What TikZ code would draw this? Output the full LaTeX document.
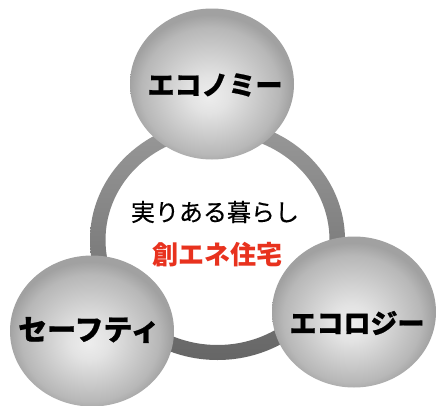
\documentclass[tikz,border=0pt]{standalone}
\usepackage{fontspec}
\newfontfamily\jp{Noto Sans CJK JP}
\newfontfamily\jpheavy[BoldFeatures={FakeBold=0.8}]{Noto Sans CJK JP}
\newfontfamily\jpmed[FakeBold=0.4]{Noto Sans CJK JP}
\usetikzlibrary{shapes.geometric}
\pgfdeclareradialshading{sphereshade}{\pgfpoint{-1bp}{-4bp}}{color(0bp)=(black!7); color(6bp)=(black!11); color(14bp)=(black!20); color(21bp)=(black!28); color(25bp)=(black!37); color(50bp)=(black!37)}
\definecolor{jred}{HTML}{E8321E}
\tikzset{
  sphere/.style={ellipse, minimum width=164pt, minimum height=151pt, inner sep=0pt, shading=sphereshade},
  lbl/.style={font=\jpheavy\bfseries\fontsize{27}{27}\selectfont, text=black, inner sep=0pt},
  maintext/.style={font=\jpmed\fontsize{24}{24}\selectfont, text=black, inner sep=0pt},
  redtext/.style={font=\jp\bfseries\fontsize{26}{26}\selectfont, text=jred, inner sep=0pt}
}
\begin{document}
\begin{tikzpicture}[x=1pt,y=-1pt]
\fill[white] (0,0) rectangle (437,405);
\useasboundingbox (0,0) rectangle (437,405);
% ring
\path[even odd rule, top color=black!40, middle color=black!5, bottom color=black!60]
  (217.5,240) ellipse [x radius=127.5, y radius=120]
  (217.5,240) ellipse [x radius=112, y radius=105];
% spheres
\node[sphere] (top) at (212,84) {};
\node[sphere] (left) at (92,331) {};
\node[sphere] (right) at (354,312) {};
% labels
\node[lbl] (ltop) at (215,85) {エコノミー};
\node[lbl, font=\jpheavy\bfseries\fontsize{29}{29}\selectfont] (lleft) at (89,330) {セーフティ};
\node[lbl] (lright) at (357,323) {エコロジー};
% centre text
\node[maintext] (t1) at (215,212) {実りある暮らし};
\node[redtext] (t2) at (217.5,255) {創エネ住宅};
\end{tikzpicture}
\end{document}
